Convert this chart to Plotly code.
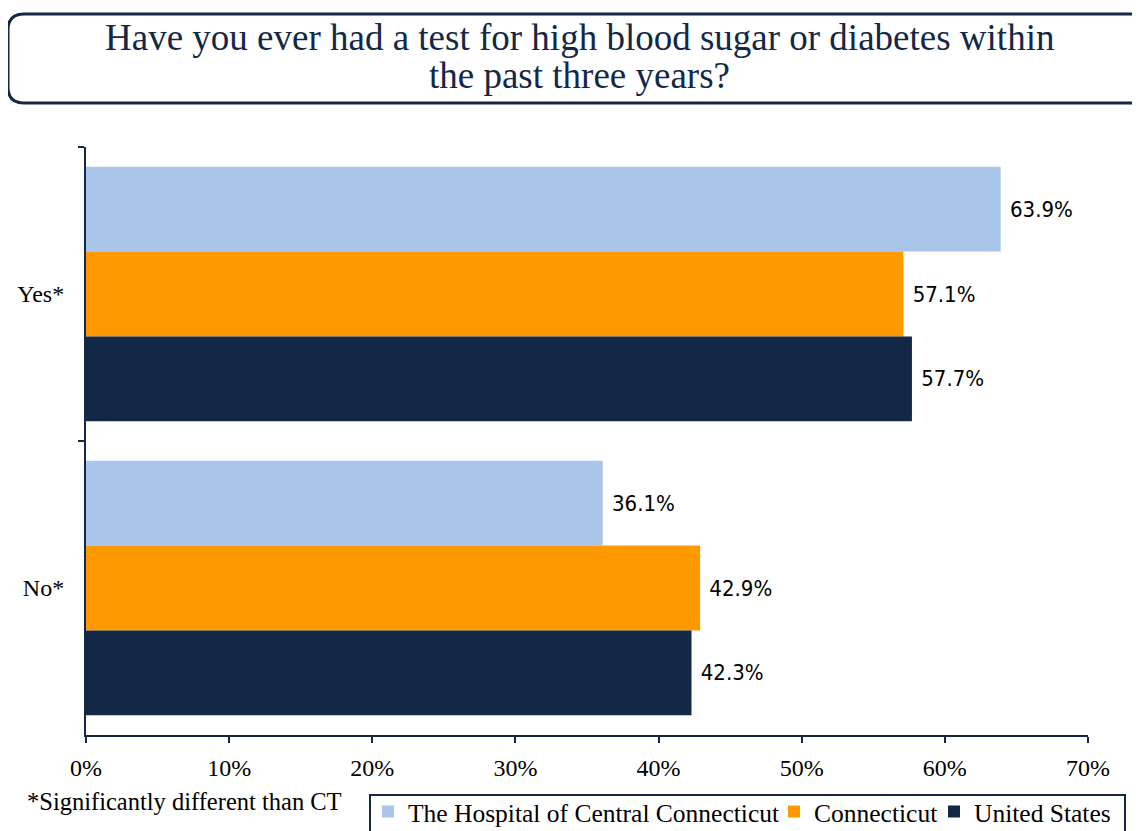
import plotly.graph_objects as go

categories = ["Yes*", "No*"]
series_names = ["The Hospital of Central Connecticut", "Connecticut", "United States"]
hospital = [63.9, 36.1]
connecticut = [57.1, 42.9]
united_states = [57.7, 42.3]
colors = ["#A9C6EA", "#FF9900", "#132846"]
x_ticks = [0, 10, 20, 30, 40, 50, 60, 70]
x_ticklabels = [f"{v}%" for v in x_ticks]
title_lines = ["Have you ever had a test for high blood sugar or diabetes within",
               "the past three years?"]
footnote = "*Significantly different than CT"

W, H = 1140, 831
OFF = 8  # page body margin
# plot area in screen pixels
SL, SR, ST, SB = 86, 1088, 147, 735
L, R, T, B = SL - OFF, SR - OFF, ST - OFF, SB - OFF

def px_x(p):
    return (p - OFF - L) / (R - L)

def px_y(p):
    return (B - (p - OFF)) / (B - T)

SERIF = "Liberation Serif"
legend_ids = ["legend", "legend2", "legend3"]
legend_x = [368, 774, 934]

fig = go.Figure()
for name, vals, col, lg in zip(series_names, [hospital, connecticut, united_states], colors, legend_ids):
    fig.add_trace(go.Bar(
        name=name, y=categories, x=vals, orientation="h",
        marker=dict(color=col, line=dict(width=0)),
        text=["\u00a0" + f"{v:.1f}%" for v in vals], textposition="outside",
        textfont=dict(family="DejaVu Sans Condensed, Liberation Sans, sans-serif", size=22, color="#000000"),
        cliponaxis=False, legend=lg,
    ))

# rounded title box
x0, x1, y0, y1, r = 8, 1170, 14, 103, 16
X0, X1 = px_x(x0), px_x(x1)
Y0, Y1 = px_y(y0), px_y(y1)
rx = r / (R - L)
ry = r / (B - T)
path = (f"M {X0+rx},{Y0} L {X1-rx},{Y0} Q {X1},{Y0} {X1},{Y0-ry} "
        f"L {X1},{Y1+ry} Q {X1},{Y1} {X1-rx},{Y1} L {X0+rx},{Y1} "
        f"Q {X0},{Y1} {X0},{Y1+ry} L {X0},{Y0-ry} Q {X0},{Y0} {X0+rx},{Y0} Z")
fig.add_shape(type="path", path=path, xref="paper", yref="paper",
              line=dict(color="#132846", width=3), fillcolor="rgba(0,0,0,0)")

# legend frame
fig.add_shape(type="rect", xref="paper", yref="paper",
              x0=px_x(370), x1=px_x(1125), y0=px_y(795), y1=px_y(850),
              line=dict(color="#132846", width=2), fillcolor="rgba(0,0,0,0)")

for line, cy in zip(title_lines, [38, 75]):
    fig.add_annotation(
        text=line, x=px_x(579), y=px_y(cy), xref="paper", yref="paper", showarrow=False,
        xanchor="center", yanchor="middle",
        font=dict(family=SERIF, size=37, color="#132846"),
    )
fig.add_annotation(
    text=footnote, x=px_x(25), y=px_y(801), xref="paper", yref="paper", showarrow=False,
    xanchor="left", yanchor="middle",
    font=dict(family=SERIF, size=24.5, color="#000000"),
)

legend_common = dict(
    orientation="h", xanchor="left", yanchor="middle",
    borderwidth=0, bgcolor="rgba(0,0,0,0)",
    font=dict(family=SERIF, size=25.5, color="#000000"),
    itemsizing="constant", itemwidth=30, tracegroupgap=0,
)

fig.update_layout(
    width=W, height=H,
    margin=dict(l=L, r=W - R, t=T, b=H - B, pad=0, autoexpand=False),
    plot_bgcolor="white", paper_bgcolor="white",
    barmode="group", bargap=0.134, bargroupgap=0,
    showlegend=True,
    legend=dict(x=px_x(legend_x[0]), y=px_y(812), **legend_common),
    legend2=dict(x=px_x(legend_x[1]), y=px_y(812), **legend_common),
    legend3=dict(x=px_x(legend_x[2]), y=px_y(812), **legend_common),
    xaxis=dict(
        range=[0, 70], tickvals=x_ticks, ticktext=x_ticklabels, automargin=False,
        showgrid=False, zeroline=False, showline=True, linecolor="#132846", linewidth=2,
        ticks="outside", ticklen=6, tickcolor="#132846", tickwidth=2,
        tickfont=dict(family=SERIF, size=24, color="#000000"),
        ticklabelstandoff=4,
    ),
    yaxis=dict(
        autorange="reversed", showgrid=False, showline=True, linecolor="#132846", linewidth=2,
        ticks="outside", ticklen=6, tickcolor="#132846", tickwidth=2, tickson="boundaries",
        automargin=False,
        tickfont=dict(family=SERIF, size=24, color="#000000"),
        ticklabelstandoff=15,
    ),
)

fig.write_html("out.html")
